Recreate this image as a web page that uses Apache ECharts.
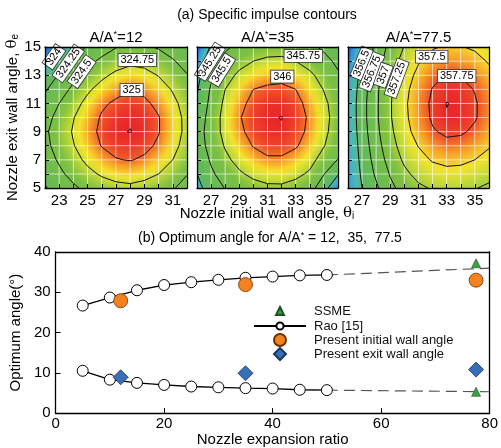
<!DOCTYPE html>
<html><head><meta charset="utf-8">
<script src="https://cdn.jsdelivr.net/npm/echarts@6/dist/echarts.min.js"></script>
<style>html,body{margin:0;padding:0;background:#fff}#c{width:501px;height:448px}</style>
</head><body><div id="c"></div>
<script>
// ---------------- data ----------------
const thetaI12 = [22,23,24,25,26,27,28,29,30,31,32];
const thetaI35 = [26,27,28,29,30,31,32,33,34,35,36];
const thetaI775 = [26,27,28,29,30,31,32,33,34,35,36];
const thetaE = [5,6,7,8,9,10,11,12,13,14,15];
// specific impulse, rows = thetaE (5..15), columns = thetaI
const isp12 = [
 [324.23,324.35,324.46,324.56,324.63,324.68,324.70,324.67,324.61,324.52,324.41],
 [324.32,324.45,324.58,324.69,324.78,324.84,324.86,324.82,324.75,324.64,324.51],
 [324.39,324.53,324.67,324.80,324.91,324.99,325.01,324.97,324.87,324.75,324.60],
 [324.44,324.59,324.74,324.88,325.01,325.06,325.07,325.05,324.97,324.82,324.66],
 [324.46,324.62,324.77,324.93,325.04,325.09,325.10,325.08,325.01,324.86,324.69],
 [324.41,324.58,324.74,324.90,325.02,325.07,325.09,325.07,325.01,324.85,324.69],
 [324.33,324.50,324.66,324.82,324.97,325.03,325.06,325.04,324.95,324.81,324.65],
 [324.22,324.39,324.55,324.71,324.84,324.94,324.99,324.95,324.86,324.73,324.59],
 [324.10,324.27,324.43,324.57,324.70,324.80,324.85,324.82,324.74,324.64,324.51],
 [323.96,324.13,324.28,324.43,324.55,324.64,324.70,324.68,324.61,324.52,324.41],
 [323.81,323.98,324.13,324.27,324.39,324.49,324.55,324.53,324.48,324.40,324.30]
];
const isp35 = [
 [345.17,345.37,345.51,345.61,345.67,345.71,345.71,345.67,345.60,345.34,345.04],
 [345.25,345.46,345.61,345.72,345.80,345.84,345.85,345.80,345.72,345.51,345.27],
 [345.32,345.53,345.70,345.82,345.92,345.98,345.98,345.92,345.82,345.66,345.49],
 [345.37,345.59,345.77,345.91,346.01,346.05,346.05,346.02,345.91,345.76,345.61],
 [345.38,345.62,345.82,345.97,346.05,346.08,346.09,346.05,345.97,345.80,345.64],
 [345.33,345.61,345.83,345.99,346.06,346.09,346.10,346.06,345.98,345.82,345.65],
 [345.27,345.57,345.80,345.96,346.04,346.08,346.08,346.05,345.95,345.80,345.63],
 [345.23,345.53,345.75,345.89,346.00,346.03,346.04,346.00,345.88,345.74,345.59],
 [345.17,345.46,345.67,345.79,345.88,345.93,345.94,345.88,345.79,345.67,345.53],
 [345.10,345.38,345.57,345.68,345.75,345.79,345.80,345.75,345.67,345.57,345.45],
 [345.01,345.28,345.46,345.56,345.62,345.65,345.65,345.62,345.55,345.46,345.35]
];
const isp775 = [
 [356.22,356.50,356.71,356.94,357.10,357.21,357.27,357.30,357.30,357.26,357.21],
 [356.24,356.54,356.79,357.02,357.20,357.32,357.40,357.43,357.42,357.38,357.32],
 [356.26,356.57,356.85,357.10,357.29,357.42,357.52,357.56,357.55,357.50,357.42],
 [356.27,356.60,356.90,357.16,357.36,357.51,357.63,357.69,357.67,357.61,357.52],
 [356.28,356.63,356.94,357.20,357.42,357.59,357.73,357.79,357.78,357.71,357.59],
 [356.29,356.65,356.96,357.23,357.45,357.63,357.78,357.84,357.83,357.77,357.64],
 [356.29,356.65,356.96,357.23,357.46,357.64,357.79,357.85,357.83,357.77,357.65],
 [356.27,356.63,356.95,357.22,357.44,357.61,357.76,357.82,357.81,357.74,357.62],
 [356.20,356.60,356.92,357.18,357.39,357.56,357.69,357.76,357.74,357.67,357.56],
 [356.13,356.52,356.88,357.14,357.33,357.48,357.59,357.64,357.63,357.57,357.48],
 [356.05,356.45,356.83,357.07,357.26,357.39,357.48,357.52,357.51,357.47,357.39]
];
const levels12 = [324, 324.25, 324.5, 324.75, 325, 325.098];
const levels35 = [345.25, 345.5, 345.75, 346, 346.098];
const levels775 = [356.5, 356.75, 357, 357.25, 357.5, 357.75, 357.847];
const xTickLabels12 = [23,25,27,29,31];
const xTickLabels35 = [27,29,31,33,35];
const yTickLabels = [5,7,9,11,13,15];

// panel (b)
const raoRatio = [5,10,15,20,25,30,35,40,45,50];
const raoInitial = [26.7,28.7,30.5,31.8,32.5,33.1,33.6,33.9,34.2,34.3];
const raoExit = [10.5,8.3,7.5,7.0,6.6,6.4,6.2,6.1,5.8,5.7];
const raoExtRatio = [50,80];
const raoInitialExt = [34.3,36.0];
const raoExitExt = [5.7,5.3];
const presentRatio = [12,35,77.5];
const presentInitial = [27.9,31.9,33.0];
const presentExit = [8.9,9.9,10.8];
const ssmeRatio = [77.5,77.5];
const ssmeAngle = [37.2,5.3];

// contour label anchors (data coords) and text rotation
const labelAnchors12 = [
 {v:'324',x:22.63,y:14.31,r:55},{v:'324.25',x:23.64,y:13.84,r:55},{v:'324.5',x:24.58,y:13.25,r:55},
 {v:'324.75',x:28.5,y:14.08,r:0},{v:'325',x:28.1,y:11.95,r:0}];
const labelAnchors35 = [
 {v:'345.25',x:26.92,y:13.96,r:58},{v:'345.5',x:27.75,y:13.37,r:58},
 {v:'345.75',x:33.54,y:14.36,r:0},{v:'346',x:32.05,y:12.9,r:0}];
const labelAnchors775 = [
 {v:'356.5',x:26.97,y:13.84,r:68},{v:'356.75',x:27.68,y:13.25,r:68},{v:'357',x:28.5,y:13.0,r:70},
 {v:'357.25',x:29.45,y:12.78,r:70},{v:'357.5',x:31.94,y:14.31,r:0},{v:'357.75',x:33.71,y:12.94,r:0}];

// ---------------- helpers ----------------
const FF = '"Liberation Sans", Arial, sans-serif';
const cstops = [[0,[30,80,190]],[0.08,[50,145,220]],[0.17,[70,185,195]],[0.28,[95,185,90]],[0.60,[125,192,65]],
 [0.71,[195,217,55]],[0.79,[245,228,45]],[0.87,[248,160,40]],[0.94,[240,80,40]],[1,[232,35,40]]];
function cmap(t){
  t = Math.max(0, Math.min(1, t));
  for (let k = 1; k < cstops.length; k++) {
    if (t <= cstops[k][0]) {
      const a = cstops[k-1], b = cstops[k], f = (t - a[0]) / (b[0] - a[0]);
      const c = a[1].map((v, i) => Math.round(v + (b[1][i] - v) * f));
      return 'rgb(' + c.join(',') + ')';
    }
  }
  return 'rgb(232,35,40)';
}
function cells(xs, ys, V){
  const out = [];
  for (let j = 0; j < ys.length - 1; j++) for (let i = 0; i < xs.length - 1; i++)
    out.push([xs[i], ys[j], xs[i+1], ys[j+1], V[j][i], V[j][i+1], V[j+1][i+1], V[j+1][i]]);
  return out;
}
function cellRenderer(V){
  let vmin = Infinity, vmax = -Infinity;
  V.forEach(r => r.forEach(v => { vmin = Math.min(vmin, v); vmax = Math.max(vmax, v); }));
  const T = v => (v - vmin) / (vmax - vmin);
  return function(params, api){
    const x0 = api.value(0), y0 = api.value(1), x1 = api.value(2), y1 = api.value(3);
    const a = api.value(4), b = api.value(5), c = api.value(6), d = api.value(7);
    const p0 = api.coord([x0, y1]), p1 = api.coord([x1, y0]);
    const m = (a + b + c + d) / 4, gx = ((b - a) + (c - d)) / 2, gy = ((d - a) + (c - b)) / 2;
    const g = Math.hypot(gx, gy);
    let fill;
    if (g < 1e-9) fill = cmap(T(m));
    else {
      const du = gx / g, dw = gy / g, k = 0.5 * (Math.abs(du) + Math.abs(dw));
      const st = [];
      for (let s = 0; s <= 4; s++) { const o = s / 4; st.push({offset: o, color: cmap(T(m + (-k + 2 * k * o) * g))}); }
      fill = new echarts.graphic.LinearGradient(0.5 - k * du, 0.5 + k * dw, 0.5 + k * du, 0.5 - k * dw, st);
    }
    return {type: 'rect', shape: {x: p0[0], y: p0[1], width: p1[0] - p0[0], height: p1[1] - p0[1]},
      style: {fill: fill, stroke: 'rgba(255,255,255,0.6)', lineWidth: 0.7}};
  };
}
function contourSegs(xs, ys, V, levels){
  const segs = [];
  levels.forEach(L => {
    for (let j = 0; j < ys.length - 1; j++) for (let i = 0; i < xs.length - 1; i++) {
      const cs = [[xs[i], ys[j], V[j][i]], [xs[i+1], ys[j], V[j][i+1]], [xs[i+1], ys[j+1], V[j+1][i+1]], [xs[i], ys[j+1], V[j+1][i]]];
      const pts = [];
      for (let e = 0; e < 4; e++) {
        const p = cs[e], q = cs[(e + 1) % 4];
        if ((p[2] >= L) !== (q[2] >= L)) {
          const f = (L - p[2]) / (q[2] - p[2]);
          pts.push([p[0] + (q[0] - p[0]) * f, p[1] + (q[1] - p[1]) * f]);
        }
      }
      if (pts.length === 2) segs.push([pts[0][0], pts[0][1], pts[1][0], pts[1][1]]);
      else if (pts.length === 4) {
        const ctr = (cs[0][2] + cs[1][2] + cs[2][2] + cs[3][2]) / 4;
        if ((ctr >= L) === (cs[0][2] >= L)) { segs.push([...pts[0], ...pts[1]]); segs.push([...pts[2], ...pts[3]]); }
        else { segs.push([...pts[3], ...pts[0]]); segs.push([...pts[1], ...pts[2]]); }
      }
    }
  });
  return segs;
}
function segRender(params, api){
  const a = api.coord([api.value(0), api.value(1)]), b = api.coord([api.value(2), api.value(3)]);
  return {type: 'line', shape: {x1: a[0], y1: a[1], x2: b[0], y2: b[1]}, style: {stroke: '#111', lineWidth: 1}};
}
function labelRender(anchors){
  return function(params, api){
    const an = anchors[params.dataIndex];
    const p = api.coord([api.value(0), api.value(1)]);
    return {type: 'text', x: p[0], y: p[1], rotation: an.r * Math.PI / 180,
      style: {text: an.v, x: 0, y: 0, align: 'center', verticalAlign: 'middle', textAlign: 'center', textVerticalAlign: 'middle',
        fill: '#000', font: '11px ' + FF, backgroundColor: '#fff', borderColor: '#333', borderWidth: 0.8, padding: [1, 2, 0, 2]}};
  };
}
function panelSeries(gi, xs, V, levels, anchors){
  return [
    {type: 'custom', xAxisIndex: gi, yAxisIndex: gi, clip: true, z: 2, silent: true,
      renderItem: cellRenderer(V), data: cells(xs, thetaE, V)},
    {type: 'custom', xAxisIndex: gi, yAxisIndex: gi, clip: true, z: 3, silent: true,
      renderItem: segRender, data: contourSegs(xs, thetaE, V, levels)},
    {type: 'custom', xAxisIndex: gi, yAxisIndex: gi, clip: false, z: 4, silent: true,
      renderItem: labelRender(anchors), data: anchors.map(a => [a.x, a.y])}
  ];
}
const lineBlack = {color: '#000', width: 1.3};
function topX(gi, xs, labels){
  return {gridIndex: gi, type: 'value', min: xs[0], max: xs[xs.length-1], interval: 1, position: 'bottom', z: 10,
    axisLine: {show: true, onZero: false, lineStyle: lineBlack},
    axisTick: {show: true, inside: true, length: 4, lineStyle: {color: '#000', width: 1}},
    axisLabel: {color: '#000', fontSize: 15, fontFamily: FF, margin: 5, formatter: v => labels.indexOf(v) >= 0 ? String(v) : ''},
    splitLine: {show: false}};
}
function mirrorX(gi, xs){
  return {gridIndex: gi, type: 'value', min: xs[0], max: xs[xs.length-1], position: 'top', z: 10,
    axisLine: {show: true, onZero: false, lineStyle: lineBlack}, axisTick: {show: false}, axisLabel: {show: false}, splitLine: {show: false}};
}
function topY(gi, showLabels){
  const ax = {gridIndex: gi, type: 'value', min: thetaE[0], max: thetaE[thetaE.length-1], interval: 1, position: 'left', z: 10,
    axisLine: {show: true, onZero: false, lineStyle: lineBlack},
    axisTick: {show: true, inside: true, length: 4, lineStyle: {color: '#000', width: 1}},
    axisLabel: {show: showLabels, color: '#000', fontSize: 15, fontFamily: FF, margin: 4, formatter: v => yTickLabels.indexOf(v) >= 0 ? String(v) : ''},
    splitLine: {show: false}};
  if (showLabels) {
    ax.name = 'Nozzle exit wall angle, {t|θ}{b|e}';
    ax.nameLocation = 'middle'; ax.nameGap = 23; ax.nameRotate = 90;
    ax.nameTextStyle = {color: '#000', fontSize: 15, fontFamily: FF,
      rich: {t: {fontSize: 15, fontFamily: '"DejaVu Serif", serif', color: '#000'}, b: {fontSize: 10, verticalAlign: 'bottom', color: '#000', padding: [6, 0, 0, 0]}}};
  }
  return ax;
}
function mirrorY(gi){
  return {gridIndex: gi, type: 'value', min: thetaE[0], max: thetaE[thetaE.length-1], position: 'right', z: 10,
    axisLine: {show: true, onZero: false, lineStyle: lineBlack}, axisTick: {show: false}, axisLabel: {show: false}, splitLine: {show: false}};
}
const supRich = {s: {fontSize: 9, verticalAlign: 'top', color: '#000', fontFamily: FF}};
function ttl(text, cx, top, size){
  return {text: text, left: cx, top: top, textAlign: 'center', padding: 0,
    textStyle: {fontSize: size, fontWeight: 'normal', color: '#000', fontFamily: FF, rich: Object.assign({}, supRich,
      {t: {fontSize: size, fontFamily: '"DejaVu Serif", serif', color: '#000'}, b: {fontSize: 10, verticalAlign: 'bottom', color: '#000'}})}};
}
function lg(name, left, top, w, h, padLeft){
  return {data: [name], orient: 'vertical', left: left, top: top, itemWidth: w, itemHeight: h, padding: 0,
    selectedMode: false, symbolKeepAspect: true,
    textStyle: {fontSize: 13, lineHeight: 14, color: '#111', fontFamily: FF, padding: [0, 0, 0, padLeft]}};
}

const chart = echarts.init(document.getElementById('c'), null, {renderer: 'canvas'});
const option = {
  animation: false,
  backgroundColor: '#fff',
  title: [
    ttl('(a) Specific impulse contours', 267, 8, 14),
    ttl('A/A{s|*}=12', 116, 30, 15),
    ttl('A/A{s|*}=35', 267.5, 30, 15),
    ttl('A/A{s|*}=77.5', 418.5, 30, 15),
    ttl('Nozzle initial wall angle, {t|θ}{b|i}', 267, 206, 15),
    ttl('(b) Optimum angle for A/A{s|*} = 12,  35,  77.5', 270, 231, 14)
  ],
  grid: [
    {left: 45, top: 47, width: 142, height: 141},
    {left: 197, top: 47, width: 141, height: 141},
    {left: 348, top: 47, width: 141, height: 141},
    {left: 45, top: 252, width: 447, height: 165}
  ],
  xAxis: [
    topX(0, thetaI12, xTickLabels12), topX(1, thetaI35, xTickLabels35), topX(2, thetaI775, xTickLabels35),
    mirrorX(0, thetaI12), mirrorX(1, thetaI35), mirrorX(2, thetaI775),
    {gridIndex: 3, type: 'value', min: 0, max: 80, interval: 20, position: 'bottom', z: 10,
      axisLine: {show: true, onZero: false, lineStyle: lineBlack},
      axisTick: {show: true, inside: true, length: 5, lineStyle: {color: '#000'}},
      axisLabel: {color: '#000', fontSize: 15, fontFamily: FF, margin: 3},
      splitLine: {show: false},
      name: 'Nozzle expansion ratio', nameLocation: 'middle', nameGap: 18,
      nameTextStyle: {color: '#000', fontSize: 15, fontFamily: FF}},
    {gridIndex: 3, type: 'value', min: 0, max: 80, position: 'top', z: 10,
      axisLine: {show: true, onZero: false, lineStyle: lineBlack}, axisTick: {show: false}, axisLabel: {show: false}, splitLine: {show: false}}
  ],
  yAxis: [
    topY(0, true), topY(1, false), topY(2, false),
    mirrorY(0), mirrorY(1), mirrorY(2),
    {gridIndex: 3, type: 'value', min: 0, max: 40, interval: 10, position: 'left', z: 10,
      axisLine: {show: true, onZero: false, lineStyle: lineBlack},
      axisTick: {show: true, inside: true, length: 5, lineStyle: {color: '#000'}},
      axisLabel: {color: '#000', fontSize: 15, fontFamily: FF, margin: 5},
      splitLine: {show: false},
      name: 'Optimum angle(°)', nameLocation: 'middle', nameGap: 23, nameRotate: 90,
      nameTextStyle: {color: '#000', fontSize: 15, fontFamily: FF}},
    {gridIndex: 3, type: 'value', min: 0, max: 40, position: 'right', z: 10,
      axisLine: {show: true, onZero: false, lineStyle: lineBlack}, axisTick: {show: false}, axisLabel: {show: false}, splitLine: {show: false}}
  ],
  legend: [
    lg('SSME', 275, 304, 8, 8, 25),
    lg('Rao [15]', 253, 319, 52, 9, 3),
    lg('Present initial wall angle', 273, 333, 12, 12, 23),
    lg('Present exit wall angle', 273, 347, 12, 12, 23)
  ],
  series: [
    ...panelSeries(0, thetaI12, isp12, levels12, labelAnchors12),
    ...panelSeries(1, thetaI35, isp35, levels35, labelAnchors35),
    ...panelSeries(2, thetaI775, isp775, levels775, labelAnchors775),
    {type: 'line', name: 'ext1', xAxisIndex: 6, yAxisIndex: 6, symbol: 'none', z: 2,
      lineStyle: {color: '#555', width: 1.2, type: [11, 6]}, data: raoExtRatio.map((x, i) => [x, raoInitialExt[i]])},
    {type: 'line', name: 'ext2', xAxisIndex: 6, yAxisIndex: 6, symbol: 'none', z: 2,
      lineStyle: {color: '#555', width: 1.2, type: [11, 6]}, data: raoExtRatio.map((x, i) => [x, raoExitExt[i]])},
    {type: 'line', name: 'Rao [15]', xAxisIndex: 6, yAxisIndex: 6, symbol: 'circle', symbolSize: 11, z: 3,
      lineStyle: {color: '#000', width: 1.3}, itemStyle: {color: '#fff', borderColor: '#000', borderWidth: 1},
      data: raoRatio.map((x, i) => [x, raoInitial[i]])},
    {type: 'line', name: 'Rao [15]', xAxisIndex: 6, yAxisIndex: 6, symbol: 'circle', symbolSize: 11, z: 3,
      lineStyle: {color: '#000', width: 1.3}, itemStyle: {color: '#fff', borderColor: '#000', borderWidth: 1},
      data: raoRatio.map((x, i) => [x, raoExit[i]])},
    {type: 'scatter', name: 'Present initial wall angle', xAxisIndex: 6, yAxisIndex: 6, symbol: 'circle', symbolSize: 14, z: 4,
      itemStyle: {color: '#f58220', borderColor: '#6b3200', borderWidth: 0.8, opacity: 1},
      data: presentRatio.map((x, i) => [x, presentInitial[i]])},
    {type: 'scatter', name: 'Present exit wall angle', xAxisIndex: 6, yAxisIndex: 6, symbol: 'diamond', symbolSize: 15, z: 4,
      itemStyle: {color: '#3a6fb7', borderColor: '#1a355f', borderWidth: 0.8, opacity: 1},
      data: presentRatio.map((x, i) => [x, presentExit[i]])},
    {type: 'scatter', name: 'SSME', xAxisIndex: 6, yAxisIndex: 6, symbol: 'triangle', symbolSize: 9, z: 5,
      itemStyle: {color: '#3aa047', borderColor: '#1a5020', borderWidth: 0.6, opacity: 1},
      data: ssmeRatio.map((x, i) => [x, ssmeAngle[i]])}
  ]
};
chart.setOption(option);
</script></body></html>
